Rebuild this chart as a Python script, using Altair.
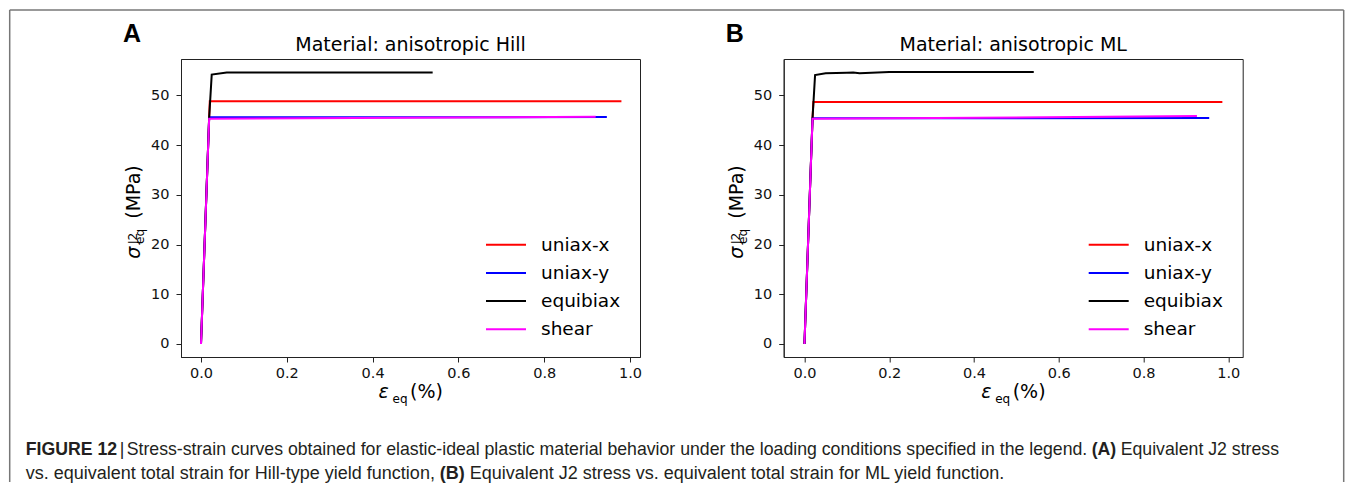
import altair as alt
import pandas as pd

FONT = "DejaVu Sans"
CAP_FONT = "Liberation Sans"

SERIES = ["uniax-x", "uniax-y", "equibiax", "shear"]
COLORS = ["#ff0000", "#0000ff", "#000000", "#ff00ff"]

# Panel A - anisotropic Hill
A_UX_STRAIN = [0.0, 0.019, 0.0205, 0.980]
A_UX_STRESS = [0.0, 45.5, 48.85, 48.85]
A_UY_STRAIN = [0.0, 0.019, 0.021, 0.946]
A_UY_STRESS = [0.0, 45.5, 45.6, 45.65]
A_EB_STRAIN = [0.0, 0.019, 0.025, 0.060, 0.540]
A_EB_STRESS = [0.0, 45.5, 54.2, 54.6, 54.6]
A_SH_STRAIN = [0.0, 0.019, 0.920]
A_SH_STRESS = [0.0, 45.3, 45.7]

# Panel B - anisotropic ML
B_UX_STRAIN = [0.0, 0.019, 0.021, 0.986]
B_UX_STRESS = [0.0, 45.4, 48.7, 48.7]
B_UY_STRAIN = [0.0, 0.019, 0.955]
B_UY_STRESS = [0.0, 45.4, 45.45]
B_EB_STRAIN = [0.0, 0.019, 0.025, 0.050, 0.100, 0.115, 0.130, 0.200, 0.541]
B_EB_STRESS = [0.0, 45.4, 54.1, 54.45, 54.55, 54.6, 54.45, 54.7, 54.7]
B_SH_STRAIN = [0.0, 0.019, 0.926]
B_SH_STRESS = [0.0, 45.3, 45.85]

X_TICKS = [0.0, 0.2, 0.4, 0.6, 0.8, 1.0]
Y_TICKS = [0, 10, 20, 30, 40, 50]
TITLES = ["Material: anisotropic Hill", "Material: anisotropic ML"]
LETTERS = ["A", "B"]
X_TITLE = ["ε", "eq", "(%)"]
Y_TITLE = ["σ", "eq", "J2", "(MPa)"]
# caption segments: (text, bold)
CAPTION_1 = [("FIGURE 12", True), ("|", False),
             ("Stress-strain curves obtained for elastic-ideal plastic material behavior under the loading conditions specified in the legend.", False),
             ("(A)", True), ("Equivalent J2 stress", False)]
CAPTION_2 = [("vs. equivalent total strain for Hill-type yield function,", False), ("(B)", True),
             ("Equivalent J2 stress vs. equivalent total strain for ML yield function.", False)]

W, H = 459, 298
YDOM = [-2.62, 57.34]
XDOM_A = [-0.0466, 1.0233]
XDOM_B = [-0.049, 1.034]
TICK_FONT = 14.5


def make_df(strains, stresses):
    rows = []
    for s, xs, ys in zip(SERIES, strains, stresses):
        for i, (x, y) in enumerate(zip(xs, ys)):
            rows.append({"series": s, "strain": x, "stress": y, "idx": i})
    return pd.DataFrame(rows)


df_a = make_df([A_UX_STRAIN, A_UY_STRAIN, A_EB_STRAIN, A_SH_STRAIN],
               [A_UX_STRESS, A_UY_STRESS, A_EB_STRESS, A_SH_STRESS])
df_b = make_df([B_UX_STRAIN, B_UY_STRAIN, B_EB_STRAIN, B_SH_STRAIN],
               [B_UX_STRESS, B_UY_STRESS, B_EB_STRESS, B_SH_STRESS])

COLOR = alt.Color("series:N", scale=alt.Scale(domain=SERIES, range=COLORS), legend=None)


def txt(s, x, y, size, align="left", font=FONT, color="black", **kw):
    return alt.Chart(pd.DataFrame({"t": [s]})).mark_text(
        align=align, baseline="alphabetic", fontSize=size, font=font, color=color, **kw
    ).encode(x=alt.value(x), y=alt.value(y), text="t:N")


def rule(x, x2, y, y2):
    return alt.Chart(pd.DataFrame({"k": [0]})).mark_rule(color="#777777", strokeWidth=1.5).encode(
        x=alt.value(x), x2=alt.value(x2), y=alt.value(y), y2=alt.value(y2))


def axis(values, fmt, pad):
    return alt.Axis(values=values, format=fmt, title=None, labelFont=FONT, labelFontSize=TICK_FONT,
                    labelColor="#111111", labelPadding=pad, tickSize=5, tickColor="#222222",
                    tickWidth=1, domainColor="#222222", domainWidth=1, grid=False)


def panel(df, xdom, title, letter, extra):
    x = alt.X("strain:Q", scale=alt.Scale(domain=xdom, nice=False, zero=False), axis=axis(X_TICKS, ".1f", 4))
    y = alt.Y("stress:Q", scale=alt.Scale(domain=YDOM, nice=False, zero=False), axis=axis(Y_TICKS, "d", 7))
    lines = [alt.Chart(df).transform_filter(alt.datum.series == s)
             .mark_line(strokeWidth=2).encode(x=x, y=y, color=COLOR, order="idx:Q")
             for s in SERIES]
    data_layer = alt.layer(*lines)

    leg = pd.DataFrame({"series": SERIES})
    ly = alt.Y("series:N", scale=alt.Scale(type="point", domain=SERIES, range=[185.7, 270.3], padding=0),
               axis=None)
    leg_lines = alt.Chart(leg).mark_rule(strokeWidth=2).encode(
        x=alt.value(305), x2=alt.value(345), y=ly, color=COLOR)
    leg_text = alt.Chart(leg).mark_text(align="left", baseline="middle", font=FONT,
                                        fontSize=18.5, color="black").encode(
        x=alt.value(360), y=ly, text="series:N")

    ann = [
        txt(letter, -58, -17.5, 25, font="Liberation Sans", fontWeight="bold"),
        txt(title, W / 2, -8, 19, align="center"),
        txt(X_TITLE[0], 197.5, 339, 19, fontStyle="italic"),
        txt(X_TITLE[1], 211.5, 344, 12),
        txt(X_TITLE[2], 229, 339, 19),
        txt(Y_TITLE[0], -41, 199.7, 19, angle=270, fontStyle="italic"),
        txt(Y_TITLE[1], -37, 185, 12, angle=270),
        txt(Y_TITLE[2], -44, 185, 12, angle=270),
        txt(Y_TITLE[3], -41, 159.7, 19, angle=270),
    ]
    return alt.layer(data_layer, leg_lines, leg_text, *ann, *extra).resolve_scale(
        y="independent").properties(width=W, height=H)


# outer figure frame and caption, placed relative to panel A's plot area
OX, OY = 179.3, 57
frame = [
    rule(8 - OX, 8 - OX, 8 - OY, 480 - OY),
    rule(8 - OX, 1342 - OX, 8 - OY, 8 - OY),
    rule(1342 - OX, 1342 - OX, 8 - OY, 480 - OY),
]
CAPC = "#231f20"


def caption_line(parts, starts, base, size):
    return [txt(s, x - OX, base - OY, size, font=CAP_FONT,
                fontWeight="bold" if bold else "normal", color=CAPC)
            for (s, bold), x in zip(parts, starts)]


cap = (caption_line(CAPTION_1, [24, 118, 125, 1090, 1119], 453, 17.7) +
       caption_line(CAPTION_2, [24, 438, 468], 477, 18))

pA = panel(df_a, XDOM_A, TITLES[0], LETTERS[0], frame + cap)
pB = panel(df_b, XDOM_B, TITLES[1], LETTERS[1], [])

chart = alt.hconcat(pA, pB, spacing=143.7, bounds="flush", padding=0).configure_view(
    stroke="#222222", strokeWidth=1
)

chart.save("out.html", embed_options={"renderer": "svg", "actions": False})
